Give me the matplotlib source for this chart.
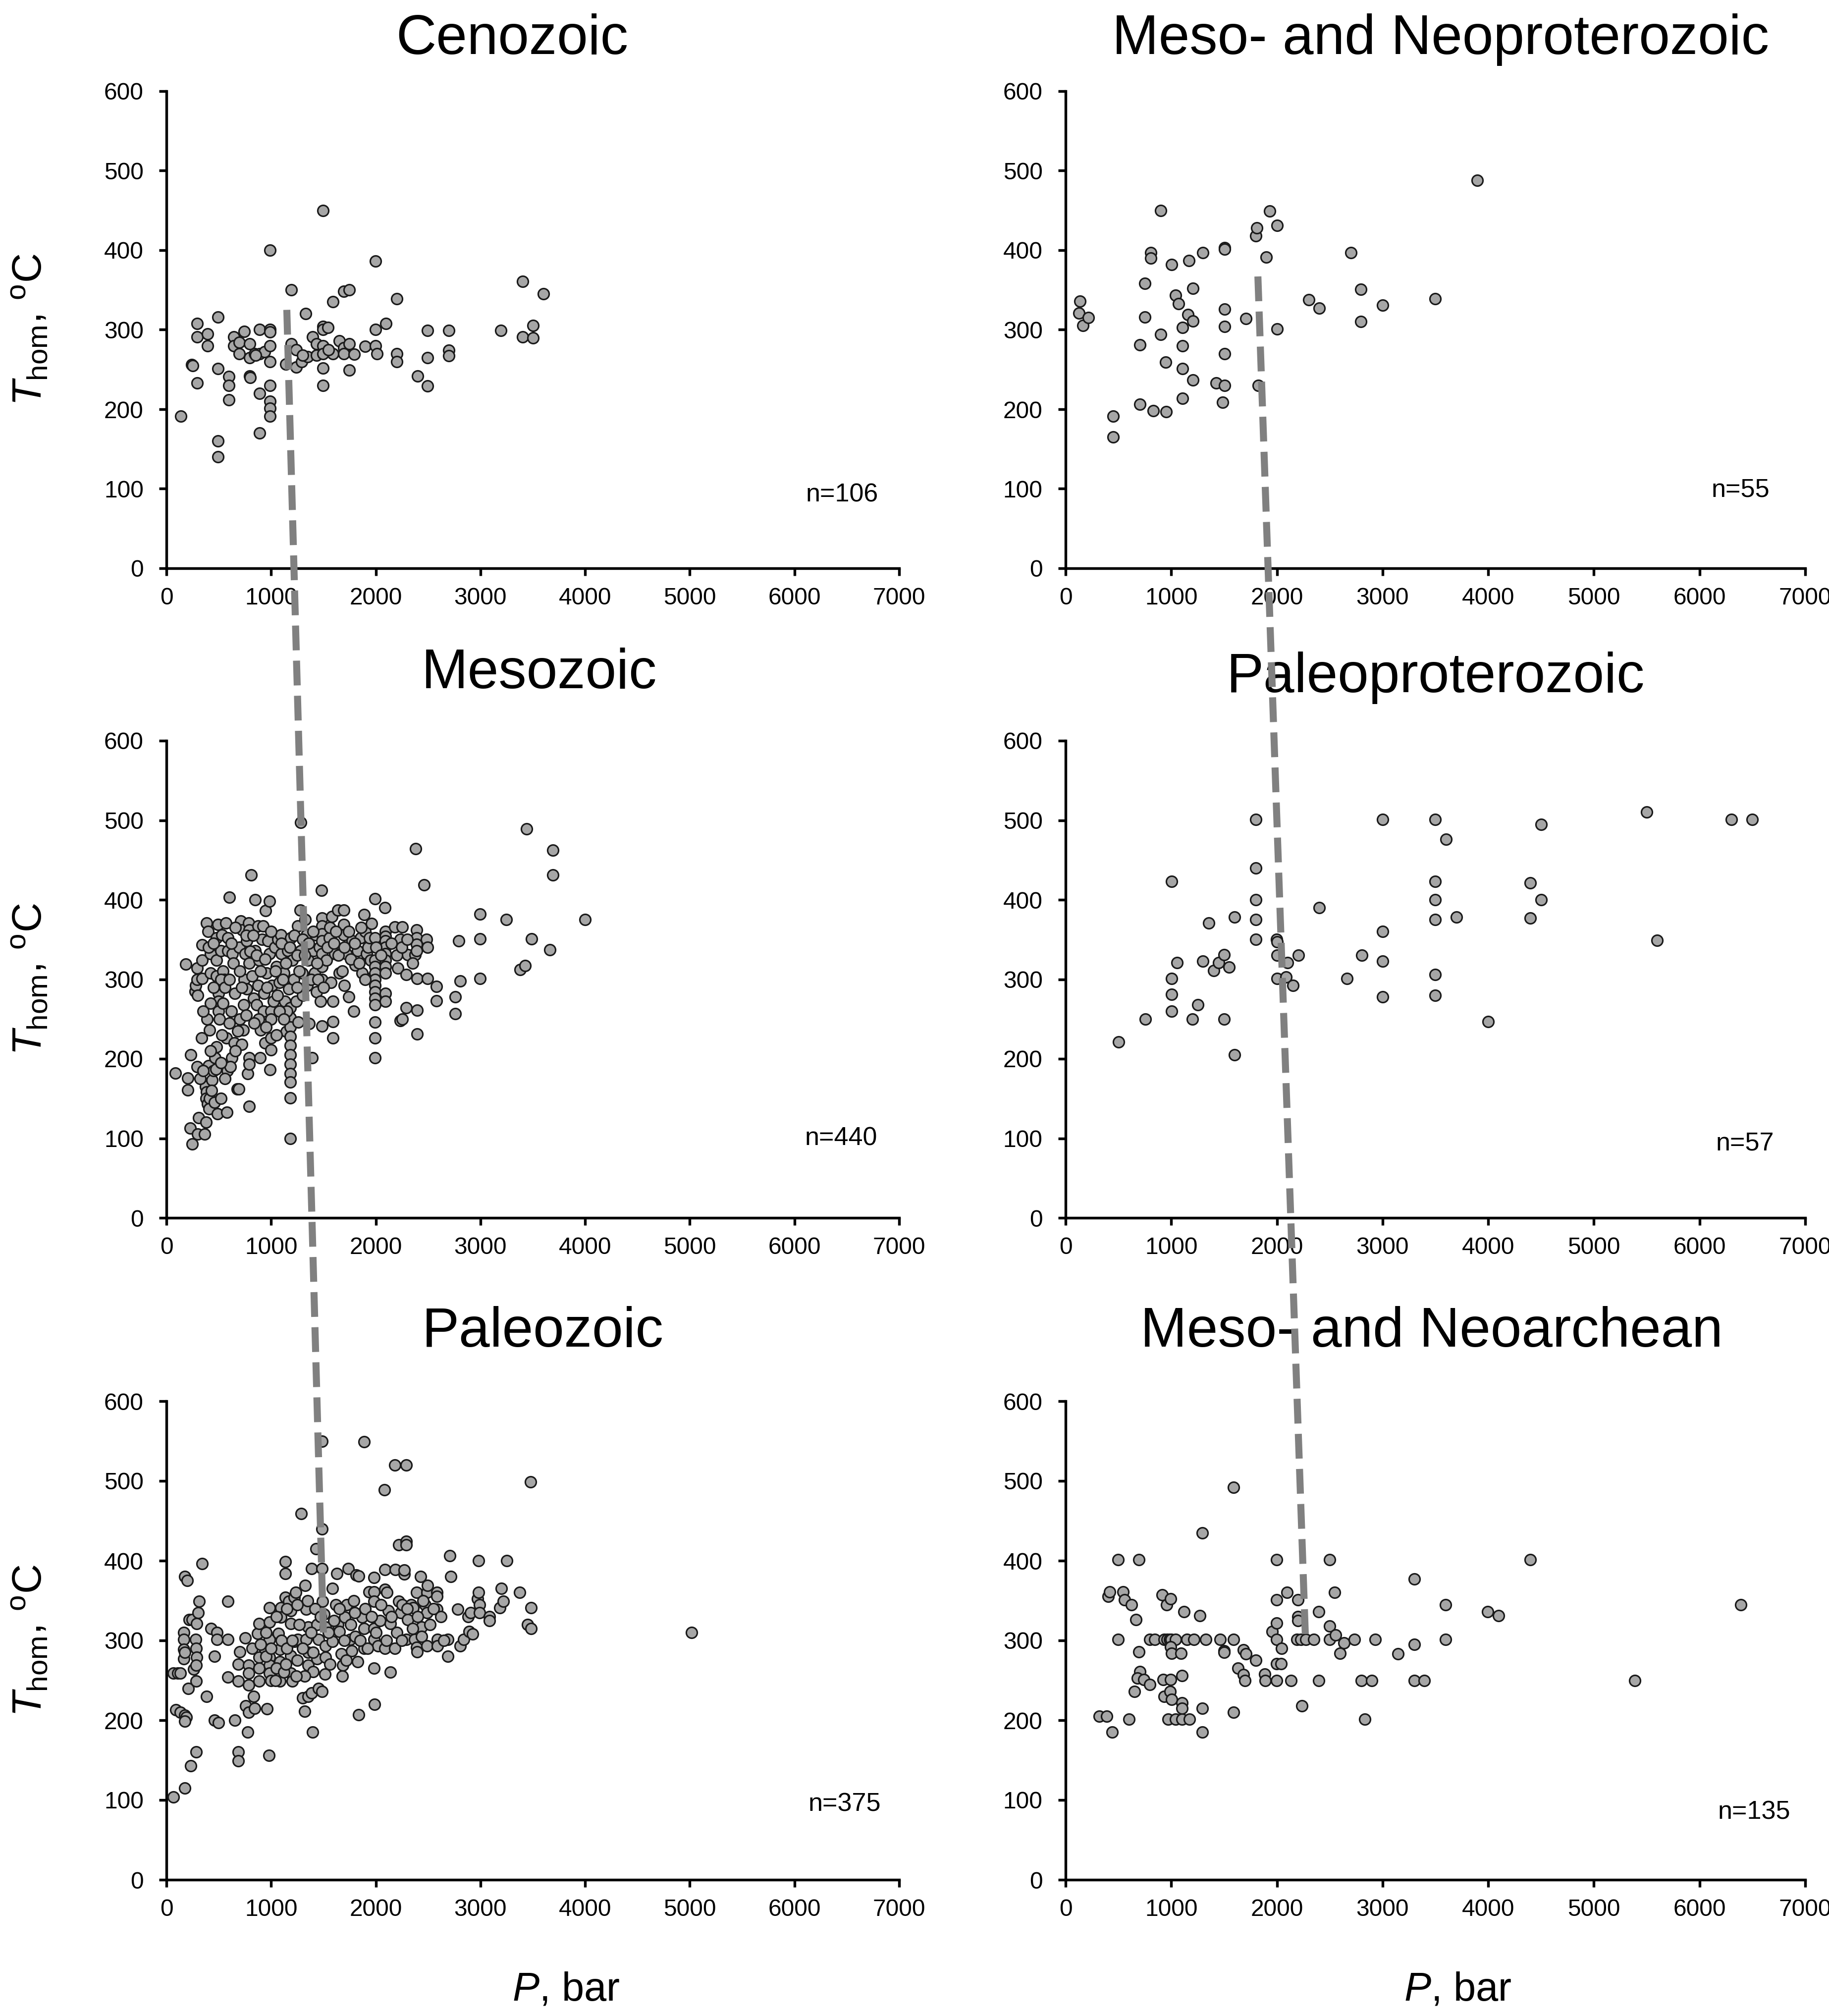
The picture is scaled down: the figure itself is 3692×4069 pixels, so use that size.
import matplotlib
matplotlib.use("Agg")
import matplotlib.pyplot as plt
from matplotlib.lines import Line2D

plt.rcParams['font.family'] = ['Liberation Sans', 'DejaVu Sans']
plt.rcParams['mathtext.fontset'] = 'custom'
plt.rcParams['mathtext.rm'] = 'Liberation Sans'
plt.rcParams['mathtext.it'] = 'Liberation Sans:italic'
plt.rcParams['lines.scale_dashes'] = False

# ---------------- data (P in bar, Thom in degC) ----------------
titles = ["Cenozoic", "Meso- and Neoproterozoic", "Mesozoic",
          "Paleoproterozoic", "Paleozoic", "Meso- and Neoarchean"]
n_labels = ["n=106", "n=55", "n=440", "n=57", "n=375", "n=135"]
x_ticks = [0, 1000, 2000, 3000, 4000, 5000, 6000, 7000]
y_ticks = [0, 100, 200, 300, 400, 500, 600]

cenozoic = [(136,191),(243,256),(250,255),(292,308),(292,291),(292,233),(394,295),(394,280),
    (491,316),(491,251),(491,160),(491,140),(594,241),(594,230),(594,212),(642,291),(642,280),
    (696,284),(696,270),(745,298),(793,282),(793,265),(793,242),(800,240),(842,270),(890,300),
    (890,270),(890,220),(890,170),(939,272),(988,400),(988,300),(988,297),(988,280),(988,260),
    (988,230),(988,210),(988,201),(988,191),(1143,257),(1192,350),(1192,282),(1241,275),
    (1241,253),(1290,260),(1328,320),(1348,266),(1397,291),(1436,282),(1436,268),(1494,450),
    (1494,304),(1494,300),(1494,280),(1494,270),(1494,252),(1494,230),(1543,303),(1591,335),
    (1591,270),(1650,286),(1693,348),(1747,350),(1693,277),(1693,270),(1747,282),(1747,249),
    (1796,269),(1898,279),(1995,386),(1995,300),(1995,280),(2010,270),(2097,308),(2200,339),
    (2200,270),(2200,260),(2399,242),(2496,299),(2496,265),(2496,229),(2700,299),(2700,274),
    (2700,267),(3197,299),(3401,361),(3401,291),(3504,305),(3504,290),(3601,345),(1550,275),
    (1300,268),(850,268)]

meso_neoproterozoic = [(135,336),(125,321),(164,305),(217,315),(448,191),(448,165),(704,281),
    (704,206),(752,358),(752,316),(805,397),(805,390),(829,198),(901,450),(901,294),(945,259),
    (954,197),(1002,382),(1041,343),(1070,333),(1108,303),(1108,280),(1108,251),(1108,214),
    (1157,319),(1166,387),(1205,352),(1205,311),(1205,237),(1301,397),(1427,233),(1484,209),
    (1504,403),(1504,401),(1504,326),(1504,304),(1504,270),(1504,230),(1706,314),(1802,418),
    (1812,428),(1822,230),(1899,391),(1933,449),(2000,431),(2000,301),(2304,338),(2400,327),
    (2699,397),(2795,351),(2795,310),(3002,331),(3499,339),(3894,488)]

mesozoic = [(87,182),(183,319),(205,176),(205,161),(232,205),(227,113),(246,93),(273,285),
    (281,292),(292,300),(292,314),(292,190),(309,126),(300,105),(363,105),(336,226),(341,343),
    (341,324),(341,301),(382,371),(388,250),(396,360),(404,191),(375,165),(383,158),(378,150),
    (395,143),(410,150),(405,137),(423,332),(423,308),(410,236),(437,173),(451,185),(464,201),
    (472,187),(478,352),(478,324),(478,304),(486,131),(491,369),(497,282),(497,272),(497,260),
    (505,250),(519,336),(532,356),(541,310),(552,300),(568,371),(573,226),(579,133),(582,185),
    (587,352),(587,336),(601,403),(623,201),(628,332),(641,320),(650,220),(655,282),(677,162),
    (691,162),(696,340),(710,373),(718,218),(724,362),(732,236),(737,268),(743,300),(751,332),
    (765,348),(765,288),(778,181),(792,140),(787,371),(792,362),(792,320),(792,201),(792,193),
    (811,431),(819,304),(833,276),(846,400),(846,336),(860,268),(874,367),(874,292),(887,324),
    (893,201),(901,236),(915,350),(923,367),(928,260),(934,282),(942,220),(947,386),(956,308),
    (969,348),(983,398),(983,332),(989,186),(997,260),(997,250),(997,226),(997,211),(1010,292),
    (1024,272),(1038,340),(1051,316),(1065,350),(1078,296),(1092,356),(1098,332),(1120,308),
    (1133,272),(1147,234),(1160,336),(1169,288),
    (1182,264),(1182,252),(1182,240),(1182,228),(1182,217),(1182,205),(1182,193),(1182,181),
    (1182,171),(1182,151),(1182,100),
    (1188,352),(1201,324),(1215,300),(1242,272),(1256,367),(1261,246),(1278,387),(1283,497),
    (1283,336),(1297,308),(1324,375),(1338,356),(1343,292),(1352,324),(1365,244),(1393,201),
    (1406,336),(1415,308),(1426,356),(1434,284),(1461,340),(1474,272),(1483,412),
    (1488,377),(1488,367),(1488,357),(1488,348),(1488,332),(1488,316),(1488,300),(1488,241),
    (1529,324),(1556,352),(1570,296),(1583,379),(1589,272),(1589,247),(1589,226),(1611,332),
    (1638,387),(1693,387),(1652,308),(1693,369),(1693,356),(1698,292),(1720,332),(1742,278),
    (1775,348),(1789,260),(1802,318),(1829,336),(1857,352),(1870,308),(1890,381),(1898,360),
    (1911,332),(1925,340),(1939,352),(1952,324),(1980,304),(1993,401),(1993,352),
    (1993,324),(1993,316),(1993,308),(1993,300),(1993,292),(1993,284),(1993,276),(1993,268),
    (1993,246),(1993,226),(1993,201),
    (2089,390),
    (2094,360),(2094,354),(2094,348),(2094,340),(2094,332),(2094,324),(2094,316),(2094,308),
    (2094,282),(2094,272),
    (2184,366),(2253,366),(2212,314),(2233,350),(2233,248),(2253,250),(2293,306),(2293,264),
    (2307,331),(2375,331),(2389,362),(2389,352),(2389,344),(2389,336),(2395,301),(2395,261),
    (2395,231),(2381,464),(2463,419),(2485,350),(2493,340),(2493,301),(2581,291),(2581,273),
    (2758,278),(2758,257),(2794,348),(2805,298),(2995,382),(2995,351),(2995,301),(3249,375),
    (3377,312),(3427,317),(3440,489),(3490,351),(3664,337),(3692,462),(3692,431),(4000,375),
    (400,340),(450,345),(520,300),(560,290),(600,300),(620,345),(660,365),(700,310),(720,290),
    (760,355),(800,335),(830,355),(860,330),(900,310),(940,325),(960,290),(1000,360),(1040,310),
    (1060,280),(1100,345),(1110,300),(1140,320),(1180,340),(1220,355),(1250,330),(1270,310),
    (1300,350),(1320,330),(1360,345),(1380,300),(1400,360),(1440,320),(1450,300),(1500,290),
    (1540,340),(1560,365),(1600,345),(1620,360),(1640,330),(1680,310),(1700,340),(1740,360),
    (1760,325),(1800,345),(1840,320),(1860,365),(1900,300),(1960,370),(2000,340),(2050,330),
    (2150,345),(2200,330),(2250,340),(2300,350),(2350,320),(1300,280),(1250,290),(1150,260),
    (1080,260),(880,250),(700,250),(620,260),(540,270),(450,290),(420,270),(300,280),(350,260),
    (320,175),(350,185),(430,160),(460,145),(520,150),(560,175),(610,190),(660,210),(480,215),
    (530,230),(600,245),(680,235),(760,255),(840,245),(950,240),(1050,230),(1120,250),(420,210),
    (380,120),(520,195)]

paleoproterozoic = [(502,221),(754,250),(1005,423),(1005,301),(1005,281),(1005,260),(1053,321),
    (1198,250),(1251,268),(1300,323),(1353,371),(1401,311),(1449,321),(1498,331),(1498,250),
    (1546,315),(1599,378),(1599,205),(1802,501),(1802,440),(1802,400),(1802,375),(1802,350),
    (1995,350),(2000,347),(2000,330),(2000,301),(2087,303),(2101,321),(2150,292),(2203,330),
    (2401,390),(2662,301),(2802,330),(3000,501),(3000,360),(3000,323),(3000,278),(3498,501),
    (3498,423),(3498,400),(3498,375),(3498,306),(3498,280),(3599,476),(3700,378),(4000,247),
    (4396,421),(4396,377),(4502,495),(4502,400),(5502,510),(5599,349),(6300,501),(6498,501)]

paleozoic = [(67,104),(177,115),(234,143),(284,160),(90,213),(134,210),(177,206),(191,204),
    (177,199),(67,259),(110,259),(134,259),(177,380),(201,375),(207,240),(167,310),(167,301),
    (167,289),(167,277),(177,285),(217,326),(244,326),(261,264),(278,301),(284,290),(291,279),
    (284,269),(284,249),(301,335),(311,349),(291,321),(341,396),(384,230),(424,315),(458,280),
    (458,200),(495,197),(485,310),(485,301),(585,349),(585,301),(585,254),(651,200),(685,270),
    (685,249),(702,286),(752,303),(758,218),(785,210),(775,185),(685,160),(685,149),(785,244),
    (785,269),(785,259),(818,290),(835,230),(842,215),(869,309),(885,321),(885,279),(885,265),
    (885,249),(936,290),(962,214),(979,156),(986,341),(986,323),(986,301),(986,279),(986,269),
    (986,259),(1069,309),(1086,289),(1086,273),(1086,249),(1092,341),(1092,329),(1136,399),
    (1136,384),(1136,354),(1169,349),(1186,337),(1186,321),(1186,281),(1186,259),(1203,249),
    (1219,354),(1236,360),(1219,299),(1253,301),(1286,459),(1303,228),(1320,211),(1353,230),
    (1386,234),(1326,369),(1336,339),(1353,317),(1336,301),(1353,285),(1353,269),(1397,185),
    (1386,390),(1403,261),(1427,415),(1437,320),(1453,301),(1437,277),(1453,240),(1487,236),
    (1487,550),(1487,440),(1487,390),(1493,349),(1504,333),(1521,317),(1521,293),(1521,279),
    (1514,258),(1587,365),(1587,299),(1620,345),(1637,320),(1627,384),(1654,311),(1670,283),
    (1687,269),(1680,255),(1704,329),(1721,345),(1737,390),(1754,301),(1771,287),(1787,350),
    (1804,305),(1814,382),(1838,381),(1828,273),(1838,207),(1871,329),(1888,315),(1888,290),
    (1888,549),(1938,361),(1981,361),(1981,379),(1981,349),(1981,315),(1981,301),(1981,265),
    (1988,220),(2021,293),(2088,290),(2038,325),(2081,489),(2088,389),(2088,364),(2105,360),
    (2122,337),(2138,321),(2138,260),(2182,520),(2289,520),(2182,290),(2188,389),(2222,349),
    (2238,335),(2255,345),(2222,420),(2289,424),(2289,420),(2272,383),(2272,388),(2289,301),
    (2305,326),(2339,345),(2355,341),(2372,301),(2389,291),(2389,360),(2396,286),(2429,380),
    (2439,317),(2439,305),(2472,345),(2489,360),(2489,335),(2496,369),(2489,293),(2583,360),
    (2583,355),(2583,339),(2590,301),(2590,293),(2690,301),(2690,280),(2706,406),(2716,380),
    (2783,339),(2807,293),(2840,301),(2890,311),(2923,308),(2883,330),(2907,335),(2974,352),
    (2983,360),(2990,345),(2990,335),(2983,400),(3084,330),(3084,325),(3184,341),(3218,349),
    (3201,365),(3251,400),(3375,360),(3451,320),(3485,315),(3485,341),(3481,499),(5018,310),
    (950,280),(1000,250),(1050,265),(1100,300),(1120,260),(1150,290),(1200,300),(1250,275),
    (1270,320),(1300,290),(1320,255),(1380,310),(1400,285),(1420,340),(1470,330),(1550,310),
    (1560,270),(1600,325),(1650,340),(1700,300),(1720,275),(1760,320),(1800,335),(1850,300),
    (1900,340),(1920,290),(1960,330),(2000,310),(2050,345),(2100,300),(2150,330),(2200,310),
    (2250,300),(2300,340),(2350,315),(2400,330),(2450,350),(2520,320),(2550,340),(2620,330),
    (2650,300),(1050,330),(1150,340),(1250,345),(1350,350),(950,310),(900,295),(1000,290),
    (1040,250),(1140,270),(1240,255)]

meso_neoarchean = [(319,205),(391,205),(440,185),(401,355),(415,361),(498,401),(498,301),
    (546,361),(556,351),(599,201),(623,345),(667,326),(652,236),(696,401),(696,286),(705,261),
    (681,253),(739,251),(797,245),(797,301),(845,301),(913,357),(957,345),(995,352),(932,301),
    (960,301),(985,301),(1000,301),(1039,301),(922,251),(995,251),(932,230),(990,236),
    (1005,226),(971,201),(1040,201),(1101,201),(1174,201),(995,292),(1005,284),(1092,284),
    (1101,256),(1101,222),(1101,215),(1121,336),(1150,301),(1213,301),(1271,331),(1295,435),
    (1295,215),(1295,185),(1329,301),(1464,301),(1589,301),(1498,287),(1498,285),(1589,492),
    (1589,210),(1633,265),(1681,257),(1696,250),(1681,288),(1705,283),(1802,275),(1884,258),
    (1889,250),(1957,311),(1995,401),(1995,351),(1995,322),(1995,301),(1995,271),(2039,271),
    (2043,290),(1995,250),(2135,250),(2097,360),(2188,301),(2227,301),(2198,351),(2198,330),
    (2198,325),(2237,218),(2275,301),(2348,301),(2396,336),(2396,250),(2498,401),(2498,318),
    (2498,301),(2546,360),(2556,307),(2599,284),(2633,297),(2734,301),(2797,250),(2899,250),
    (2831,201),(2928,301),(3145,283),(3300,377),(3300,295),(3300,250),(3396,250),(3594,345),
    (3594,301),(3995,336),(4097,331),(4396,401),(5386,250),(6391,345)]

# trend lines (P, T) linking panels: left column and right column
trend_left = [(1150, 325), (1500, 307)]
trend_right = [(1820, 367), (2270, 303)]

# ---------------- layout ----------------
W, H = 3692, 4069
fig = plt.figure(figsize=(W / 300, H / 300), dpi=300)

cols = [(336, 1479), (2151, 1493)]
rows = [(184, 1147), (1495, 2458), (2828, 3794)]
title_pos = [(1034, 109), (2908, 109), (1088, 1389), (2898, 1397), (1096, 2718), (2890, 2718)]
n_pos = [(6800, 84), (6662, 90), (6790, 91), (6705, 85), (6826, 86), (6859, 76)]
datasets = [cenozoic, meso_neoproterozoic, mesozoic, paleoproterozoic, paleozoic, meso_neoarchean]

axes = []
for i in range(6):
    r, c = divmod(i, 2)
    x0, w = cols[c]
    top, bot = rows[r]
    ax = fig.add_axes([x0 / W, (H - bot) / H, w / W, (bot - top) / H])
    ax.set_xlim(0, 7000)
    ax.set_ylim(0, 600)
    ax.set_xticks(x_ticks)
    ax.set_yticks(y_ticks)
    for s in ("top", "right"):
        ax.spines[s].set_visible(False)
    for s in ("left", "bottom"):
        ax.spines[s].set_linewidth(1.3)
        ax.spines[s].set_color("black")
    ax.tick_params(direction="out", length=3.6, width=1.3, labelsize=11.5, colors="black")
    ax.tick_params(axis="y", pad=7.5)
    ax.tick_params(axis="x", pad=5.5)
    P = [p for p, t in datasets[i]]
    T = [t for p, t in datasets[i]]
    ax.plot(P, T, "o", ms=5.3, mfc="#a6a6a6", mec="#1a1a1a", mew=0.75, clip_on=False, zorder=3)
    ax.text(n_pos[i][0], n_pos[i][1], n_labels[i], ha="right", va="baseline", fontsize=12.5)
    tx, ty = title_pos[i]
    fig.text(tx / W, (H - ty) / H, titles[i], ha="center", va="baseline", fontsize=27)
    if c == 0:
        fig.text(60 / W, (H - (top + bot) / 2) / H, r"$\mathit{T}_{\mathrm{hom}}$, $^{\mathrm{o}}$C",
                 rotation=90, ha="center", va="center", fontsize=20)
    axes.append(ax)

fig.text(1143 / W, 31 / H, r"$\mathit{P}$, bar", ha="center", va="baseline", fontsize=19.5)
fig.text(2943 / W, 31 / H, r"$\mathit{P}$, bar", ha="center", va="baseline", fontsize=19.5)

# dashed trend lines across panels (figure level)
inv = fig.transFigure.inverted()
for (pa, pb), (axa, axb) in [((trend_left[0], trend_left[1]), (axes[0], axes[4])),
                             ((trend_right[0], trend_right[1]), (axes[1], axes[5]))]:
    a = inv.transform(axa.transData.transform(pa))
    b = inv.transform(axb.transData.transform(pb))
    ln = Line2D([a[0], b[0]], [a[1], b[1]], transform=fig.transFigure, color="#808080",
                lw=3.4, dashes=(12, 5), solid_capstyle="butt", dash_capstyle="butt", zorder=20)
    fig.add_artist(ln)

fig.savefig("out.png", dpi=300, facecolor="white")
